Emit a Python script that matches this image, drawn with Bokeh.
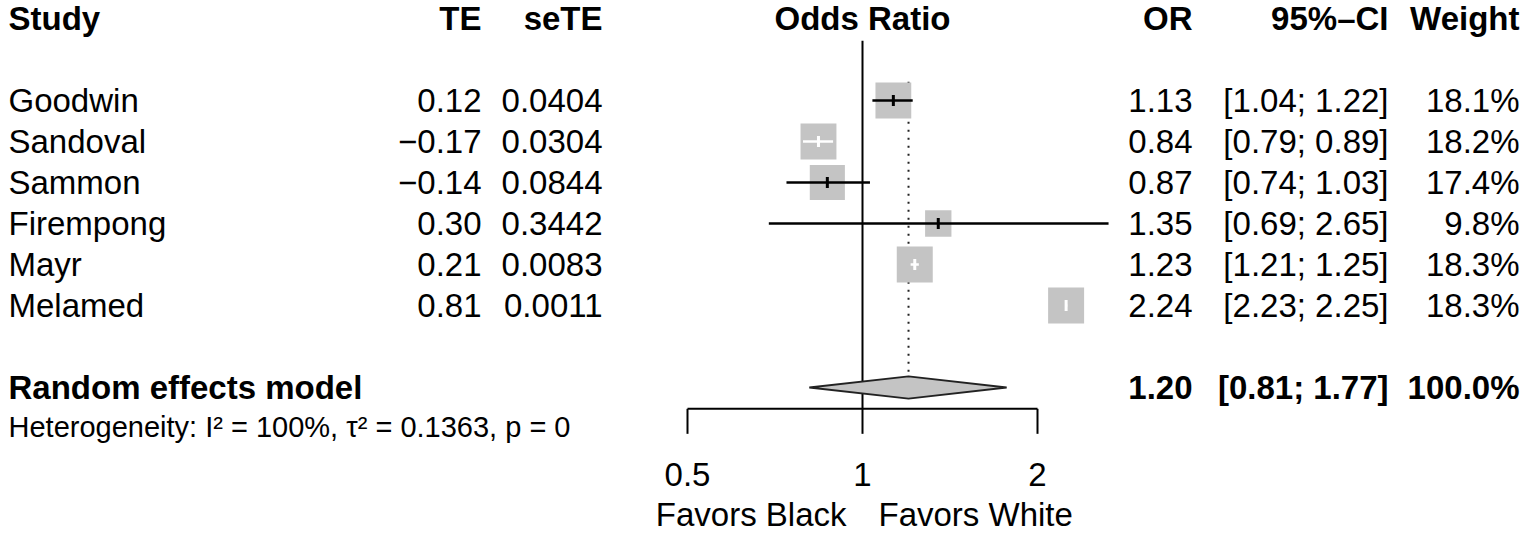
import math
from bokeh.plotting import figure
from bokeh.models import Range1d, LinearScale, ColumnDataSource
from bokeh.core.properties import value
from bokeh.embed import file_html
from bokeh.resources import INLINE

# ---------------- data ----------------
studies = ["Goodwin", "Sandoval", "Sammon", "Firempong", "Mayr", "Melamed"]
te = [0.12, -0.17, -0.14, 0.30, 0.21, 0.81]
se_te = [0.0404, 0.0304, 0.0844, 0.3442, 0.0083, 0.0011]
odds_ratio = [1.13, 0.84, 0.87, 1.35, 1.23, 2.24]
ci_lower = [1.04, 0.79, 0.74, 0.69, 1.21, 2.23]
ci_upper = [1.22, 0.89, 1.03, 2.65, 1.25, 2.25]
weights = [18.1, 18.2, 17.4, 9.8, 18.3, 18.3]

pooled_label = "Random effects model"
pooled_or = 1.20
pooled_lower = 0.81
pooled_upper = 1.77
pooled_weight = 100.0
heterogeneity = "Heterogeneity: I\u00b2 = 100%, \u03c4\u00b2 = 0.1363, p = 0"

axis_ticks = [0.5, 1, 2]
axis_tick_labels = ["0.5", "1", "2"]
label_left = "Favors Black"
label_right = "Favors White"
headers = ["Study", "TE", "seTE", "Odds Ratio", "OR", "95%\u2013CI", "Weight"]

# ---------------- layout ----------------
W, H = 1527, 534
PX_PER_DOUBLING = 175.0
PX_NULL = 862.0           # pixel position of OR = 1
ROW_H = 41.0
ROW0_PX = 18.0            # pixel position of header row
FONT = "Liberation Sans"
FS = "33px"
FS_SMALL = "29px"

def fmt(v, d):
    s = f"{abs(v):.{d}f}"
    return ("\u2212" + s) if v < 0 else s

x_start = 2 ** (-PX_NULL / PX_PER_DOUBLING)
x_end = 2 ** ((W - PX_NULL) / PX_PER_DOUBLING)
r_top = -ROW0_PX / ROW_H
r_bot = (H - ROW0_PX) / ROW_H

p = figure(width=W, height=H, x_axis_type="log",
           x_range=Range1d(x_start, x_end), y_range=Range1d(r_bot, r_top),
           x_axis_location=None, y_axis_location=None,
           output_backend="svg", toolbar_location=None, min_border=0)
p.grid.visible = False
p.outline_line_color = None
p.extra_x_ranges = {"cols": Range1d(0, W)}
p.extra_x_scales = {"cols": LinearScale()}

rows = [2 + i for i in range(len(studies))]
pooled_row = rows[-1] + 2
het_row = pooled_row + 0.97
axis_row = pooled_row + 0.52
tick_end_row = pooled_row + 1.13
tick_label_row = pooled_row + 2.12
favors_row = pooled_row + 3.1

# column anchors (pixels)
col_study = 8
col_te = 481
col_sete = 602
col_or = 1192
col_ci = 1388
col_w = 1519

def col_text(x, y, texts, align, bold=False, size=FS):
    src = ColumnDataSource(dict(x=x, y=y, t=texts))
    p.text(x="x", y="y", text="t", source=src, x_range_name="cols",
           text_font=value(FONT), text_font_size=size,
           text_font_style="bold" if bold else "normal",
           text_align=align, text_baseline="middle", text_color="black")

# headers
col_text([col_study], [0], [headers[0]], "left", True)
col_text([col_te], [0], [headers[1]], "right", True)
col_text([col_sete], [0], [headers[2]], "right", True)
p.text(x=[1.0], y=[0], text=[headers[3]], text_font=value(FONT), text_font_size=FS,
       text_font_style="bold", text_align="center", text_baseline="middle")
col_text([col_or], [0], [headers[4]], "right", True)
col_text([col_ci], [0], [headers[5]], "right", True)
col_text([col_w], [0], [headers[6]], "right", True)

# study rows
n = len(studies)
col_text([col_study] * n, rows, studies, "left")
col_text([col_te] * n, rows, [fmt(v, 2) for v in te], "right")
col_text([col_sete] * n, rows, [f"{v:.4f}" for v in se_te], "right")
col_text([col_or] * n, rows, [f"{v:.2f}" for v in odds_ratio], "right")
col_text([col_ci] * n, rows, [f"[{a:.2f}; {b:.2f}]" for a, b in zip(ci_lower, ci_upper)], "right")
col_text([col_w] * n, rows, [f"{w:.1f}%" for w in weights], "right")

# pooled row
col_text([col_study], [pooled_row], [pooled_label], "left", True)
col_text([col_or], [pooled_row], [f"{pooled_or:.2f}"], "right", True)
col_text([col_ci], [pooled_row], [f"[{pooled_lower:.2f}; {pooled_upper:.2f}]"], "right", True)
col_text([col_w], [pooled_row], [f"{pooled_weight:.1f}%"], "right", True)
col_text([col_study], [het_row], [heterogeneity], "left", False, FS_SMALL)

# reference lines
p.segment(x0=[1.0], y0=[0.54], x1=[1.0], y1=[axis_row], line_color="black", line_width=2)
p.segment(x0=[pooled_or], y0=[1.54], x1=[pooled_or], y1=[pooled_row],
          line_color="#222222", line_width=2, line_dash="2 6")

# squares and CIs
max_side = 36.0
sides = [max_side * math.sqrt(w / max(weights)) for w in weights]
ci_colors = []
for est, lo, hi, s in zip(odds_ratio, ci_lower, ci_upper, sides):
    c = PX_PER_DOUBLING * math.log2(est)
    inside = (PX_PER_DOUBLING * math.log2(lo) >= c - s / 2 - 1) and (PX_PER_DOUBLING * math.log2(hi) <= c + s / 2 + 1)
    ci_colors.append("white" if inside else "black")

sq = ColumnDataSource(dict(x=odds_ratio, y=rows, size=sides, lo=ci_lower, hi=ci_upper, c=ci_colors))
p.scatter(x="x", y="y", size="size", marker="square", source=sq,
          fill_color="#C4C4C4", line_color=None)
p.segment(x0="lo", y0="y", x1="hi", y1="y", source=sq, line_color="c", line_width=2.5)
p.scatter(x="x", y="y", marker="dash", angle=math.pi / 2, size=11, source=sq,
          line_color="c", line_width=3)

# diamond
dh = 0.27
p.patch(x=[pooled_lower, pooled_or, pooled_upper, pooled_or],
        y=[pooled_row, pooled_row - dh, pooled_row, pooled_row + dh],
        fill_color="#C4C4C4", line_color="#222222", line_width=1.8)

# axis
p.segment(x0=[min(axis_ticks)], y0=[axis_row], x1=[max(axis_ticks)], y1=[axis_row],
          line_color="black", line_width=2)
p.segment(x0=axis_ticks, y0=[axis_row] * len(axis_ticks), x1=axis_ticks,
          y1=[tick_end_row] * len(axis_ticks), line_color="black", line_width=2)
p.text(x=axis_ticks, y=[tick_label_row] * len(axis_ticks), text=axis_tick_labels,
       text_font=value(FONT), text_font_size=FS, text_align="center", text_baseline="middle")
p.text(x=[1.0], y=[favors_row], text=[label_left], x_offset=-16,
       text_font=value(FONT), text_font_size=FS, text_align="right", text_baseline="middle")
p.text(x=[1.0], y=[favors_row], text=[label_right], x_offset=16,
       text_font=value(FONT), text_font_size=FS, text_align="left", text_baseline="middle")

open("out.html", "w").write(file_html(p, INLINE))
